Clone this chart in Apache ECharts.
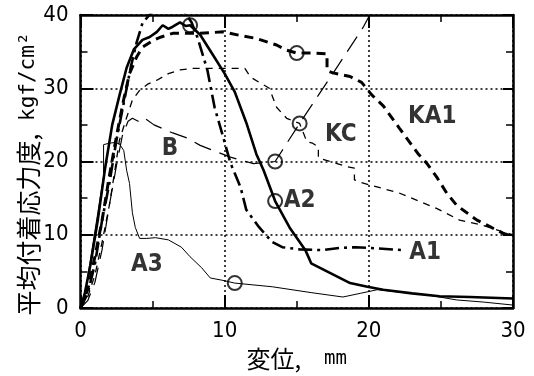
<!DOCTYPE html>
<html>
<head>
<meta charset="utf-8">
<script src="https://cdn.jsdelivr.net/npm/echarts@6/dist/echarts.min.js"></script>
<style>
  html, body { margin: 0; padding: 0; background: #fff; }
  #main { width: 534px; height: 376px; }
</style>
</head>
<body>
<div id="main"></div>
<script>
// slip (mm) vs average bond stress (kgf/cm2)
const A2 = [[0,0],[0.3,2],[0.7,6],[1.2,12],[1.7,19],[2.2,25],[2.7,29],[3.2,32.8],[3.7,35.3],[4.3,36.6],[4.8,37],[5.3,37.7],[5.7,38.6],[6.1,38.1],[6.4,38.4],[6.9,39],[7.3,38.5],[7.6,38.6],[8.3,37.3],[9.2,34.5],[10,32],[10.7,29.5],[11.5,25.3],[12.2,21],[12.7,18.8],[13.5,14.6],[14.5,11],[15.6,7.9],[16,6.1],[17.3,4.8],[18.7,3.4],[19.9,2.9],[21,2.5],[23,2],[24.9,1.6],[27,1.5],[30,1.3]];
const A1 = [[0,0],[0.5,2],[1,6],[1.5,12],[2,17],[2.5,23],[3,28],[3.5,33],[3.9,36.3],[4.3,38.9],[4.9,40.3],[6,41.5],[7,41],[7.7,39],[8.1,37],[8.8,32.5],[9.3,27.4],[9.9,23.3],[10.4,19.8],[11.1,16.5],[11.5,13.4],[12.4,11],[13.3,9],[14,8.3],[15.2,8],[16.8,7.9],[18,8.2],[19.1,8.3],[20.1,8.2],[22.4,7.9]];
const KA1 = [[0,0],[0.5,2.5],[1,7],[1.5,12],[2,18],[2.5,23.5],[3,28.5],[3.4,32],[3.9,34.3],[4.3,35.6],[5,36.5],[5.6,37],[6.4,37.5],[8.3,37.5],[9.9,37.7],[11.1,37.2],[12.2,36.8],[13.6,35.9],[14.3,35.2],[15,34.8],[16.1,34.8],[17.1,34.7],[17.1,32.4],[17.5,32.1],[18.7,31.6],[19.5,30.8],[20.2,29.1],[21,27.6],[22.1,24.6],[23.4,21.1],[24,19.8],[24.7,17.9],[25.4,15.7],[26.1,14],[26.8,13],[27.5,12],[28.4,11.1],[29.3,10.2],[30,9.8]];
const KC = [[0,0],[0.5,1.5],[1,4.5],[1.5,9],[2,14],[2.4,19],[2.7,22.9],[3.2,26],[3.6,28.4],[4.1,29.7],[4.7,30.6],[5.3,31.1],[6.1,32],[6.9,32.5],[7.8,32.7],[9.5,32.7],[11.4,32.7],[11.8,31.5],[13.1,30],[13.6,27.4],[14.3,25.9],[15.2,25.2],[15.7,22.7],[16.1,22.5],[16.5,22],[16.5,20.5],[17.3,20],[18.5,19.3],[19,19.1],[19,17.5],[19.5,17.1],[22.1,15.7],[24.7,13.6],[26.3,12],[27.9,11.3],[29.3,10.4],[30,10]];
const B = [[0,0],[0.5,1],[1,3.5],[1.5,8],[2,14],[2.5,19.5],[2.9,23.5],[3.3,25.5],[3.6,25.9],[4,25.5],[4.4,26],[5.1,25],[6.4,23.9],[7.4,23.2],[8.3,22.2],[9.2,21.5],[10.4,20.6],[12,19.7],[13.5,20],[15.2,25.2],[17.5,32],[19.6,38.3],[20.2,40.5]];
const A3 = [[0,0],[0.4,3],[0.8,8],[1.2,13],[1.6,18],[1.6,22.3],[2,22.5],[2.4,22.6],[2.7,22.4],[3,21.5],[3.2,18.8],[3.4,17],[3.6,13],[3.8,11],[4.1,9.5],[4.6,9.5],[5.2,9.6],[6.1,9.3],[7,8.3],[7.6,7],[8.4,5.5],[9,4.1],[9.8,3.8],[10.7,3.4],[13.3,2.9],[16,2.1],[18.2,1.5],[19.4,2],[20.6,2.5],[22,2.2],[24,1.8],[26.1,1.1],[28,0.8],[30,0.4]];
const circles = [[7.6,38.6],[15,34.8],[15.2,25.2],[13.5,20],[13.5,14.6],[10.7,3.4]];
const curveLabels = [["B",6.2,21.7],["KC",18.05,23.7],["KA1",24.4,26.1],["A2",15.2,14.7],["A1",23.9,7.6],["A3",4.6,5.9]];
const xTicks = [0, 10, 20, 30];
const yTicks = [0, 10, 20, 30, 40];

const narrow = "'DejaVu Sans Condensed', 'Liberation Sans Narrow', sans-serif";
const chart = echarts.init(document.getElementById("main"));

function line(data, width, type) {
  return {
    type: "line", data: data, symbol: "none", smooth: false, silent: true,
    lineStyle: { color: "#000", width: width, type: type },
    xAxisIndex: 0, yAxisIndex: 0
  };
}

const frameAxis = {
  type: "value",
  axisLine: { show: true, onZero: false, lineStyle: { color: "#000", width: 2.5 } },
  axisTick: { show: true, inside: true, length: 13, lineStyle: { color: "#000", width: 2 } },
  minorTick: { show: true, splitNumber: 2, length: 7, lineStyle: { color: "#000", width: 1.5 } },
  splitLine: { show: false }
};

chart.setOption({
  animation: false,
  backgroundColor: "#fff",
  grid: { left: 80.5, right: 21, top: 15, bottom: 68 },
  xAxis: [
    Object.assign({}, frameAxis, {
      min: xTicks[0], max: xTicks[xTicks.length - 1], interval: 10, position: "bottom",
      axisLabel: { margin: 12, color: "#000", fontSize: 22, fontFamily: narrow },
      splitLine: { show: true, lineStyle: { color: "#000", type: [2, 3], width: 1.5 } },
      name: "{cjk|変位,}  {unit|mm}", nameLocation: "middle", nameGap: 36,
      nameTextStyle: { fontSize: 19, fontFamily: "DejaVu Sans Mono", color: "#000", rich: {
        cjk: { fontFamily: "Noto Sans CJK JP", fontSize: 24, color: "#000", lineHeight: 26 },
        unit: { fontFamily: "DejaVu Sans Mono", fontSize: 19, color: "#000", lineHeight: 26 }
      } }
    }),
    Object.assign({}, frameAxis, {
      min: xTicks[0], max: xTicks[xTicks.length - 1], interval: 10, position: "top",
      axisLabel: { show: false }
    })
  ],
  yAxis: [
    Object.assign({}, frameAxis, {
      min: yTicks[0], max: yTicks[yTicks.length - 1], interval: 10, position: "left",
      axisLabel: { margin: 12, color: "#000", fontSize: 22, fontFamily: narrow },
      splitLine: { show: true, lineStyle: { color: "#000", type: [2, 3], width: 1.5 } },
      name: "{cjk|平均付着応力度,} {unit|kgf/cm²}", nameLocation: "middle", nameRotate: 90,
      nameGap: 38, nameMoveOverlap: false,
      nameTextStyle: { padding: [0, 25, 0, 0], fontSize: 21, fontFamily: "DejaVu Sans Mono", color: "#000", rich: {
        cjk: { fontFamily: "Noto Sans CJK JP", fontSize: 25, color: "#000", lineHeight: 28 },
        unit: { fontFamily: "DejaVu Sans Mono", fontSize: 21, color: "#000", lineHeight: 28 }
      } }
    }),
    Object.assign({}, frameAxis, {
      min: yTicks[0], max: yTicks[yTicks.length - 1], interval: 10, position: "right",
      axisTick: { show: true, inside: true, length: 10, lineStyle: { color: "#000", width: 2 } },
      axisLabel: { show: false }
    })
  ],
  series: [
    line(A3, 1, "solid"),
    line(B, 1.2, [18, 9]),
    line(KC, 1.3, [7, 6]),
    line(KA1, 3, [9, 6]),
    line(A1, 2.6, [14, 5, 3, 5]),
    line(A2, 2.6, "solid"),
    {
      type: "scatter", data: circles, symbol: "circle", symbolSize: 14, silent: true,
      itemStyle: { color: "rgba(255,255,255,0)", borderColor: "#000", borderWidth: 2 }
    },
    {
      type: "scatter", symbolSize: 0, silent: true,
      data: curveLabels.map(d => ({ name: d[0], value: [d[1], d[2]] })),
      label: {
        show: true, position: "inside", formatter: "{b}", color: "#000",
        fontFamily: narrow, fontSize: 24, fontWeight: "bold"
      }
    }
  ]
});
</script>
</body>
</html>
